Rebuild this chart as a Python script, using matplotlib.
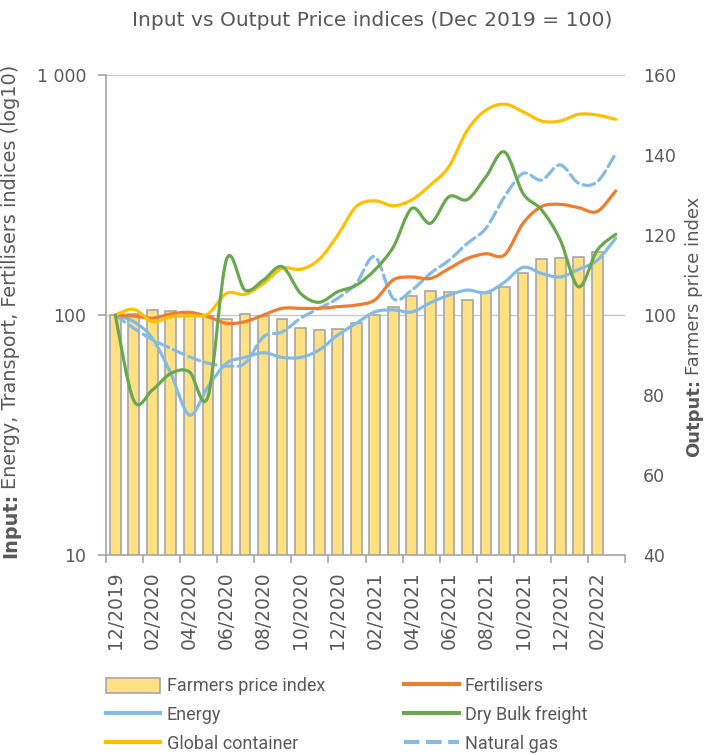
import numpy as np
import matplotlib
matplotlib.use("Agg")
import matplotlib.pyplot as plt
from matplotlib.path import Path
from matplotlib.patches import PathPatch, Patch
from matplotlib.lines import Line2D

# ---- data ----
months = ["12/2019", "01/2020", "02/2020", "03/2020", "04/2020", "05/2020", "06/2020",
          "07/2020", "08/2020", "09/2020", "10/2020", "11/2020", "12/2020", "01/2021",
          "02/2021", "03/2021", "04/2021", "05/2021", "06/2021", "07/2021", "08/2021",
          "09/2021", "10/2021", "11/2021", "12/2021", "01/2022", "02/2022", "03/2022"]

# output: farmers price index (right axis), no value yet for 03/2022
farmers = [100, 100.3, 101.2, 101, 100.2, 99.7, 99, 100.2, 99.8, 98.9, 96.8, 96.2, 96.5,
           98.1, 99.9, 102.1, 104.8, 106, 105.8, 103.7, 105.4, 107.1, 110.4, 113.9,
           114.2, 114.6, 115.7]

# inputs (left axis, log10)
fertilisers = [100, 99, 97, 101, 102.6, 98.4, 92.3, 93.8, 100, 106.6, 106.6, 106.6, 108.3,
               110, 115.5, 140, 144, 142, 156, 172, 180, 178, 241, 283, 289, 280, 270, 329]
energy = [100, 93.8, 80, 57, 38.3, 50.3, 62.9, 66.6, 69.6, 66.6, 66.6, 71.5, 82.5, 92.3,
          103, 105, 103, 112.5, 121, 127, 124, 137, 158, 149, 144, 155, 169, 209]
dry_bulk = [100, 44, 48.7, 57.1, 58, 45.7, 170, 127, 140, 159, 123, 113, 125, 133, 154,
            192, 278, 241, 311, 303, 377, 478, 321, 274, 206, 131, 186, 217]
container = [100, 105.6, 93.8, 98.4, 99.4, 101, 123, 122, 135.5, 156.5, 155, 170.5, 215,
             283, 299, 285, 302, 348, 415, 590, 714, 756, 703, 643, 643, 686, 681, 653]
natural_gas = [100, 88, 79, 72.6, 67, 63, 61.3, 63, 81.2, 85, 96.9, 106.6, 117.4, 135.5,
               175, 117, 127, 149, 169, 199, 230, 311, 389, 365, 422, 354, 359, 471]

GREY = "#595959"
W, H = 705, 755


def smooth_path(xs, ys):
    # Excel-style smoothed line: cubic bezier segments, built in log space
    px = np.asarray(xs, dtype=float)
    py = np.log10(np.asarray(ys, dtype=float))
    n = len(px)
    verts = [(px[0], py[0])]
    codes = [Path.MOVETO]
    for i in range(n - 1):
        p0 = i - 1 if i > 0 else i
        p3 = i + 2 if i + 2 < n else i + 1
        c1 = (px[i] + (px[i + 1] - px[p0]) / 6, py[i] + (py[i + 1] - py[p0]) / 6)
        c2 = (px[i + 1] - (px[p3] - px[i]) / 6, py[i + 1] - (py[p3] - py[i]) / 6)
        verts += [c1, c2, (px[i + 1], py[i + 1])]
        codes += [Path.CURVE4] * 3
    verts = [(vx, 10 ** vy) for vx, vy in verts]
    return Path(verts, codes)


def vlabel(fig, x_px, y_bottom_px, bold_part, rest, size):
    # vertical label with a bold lead-in, reading bottom to top
    r = fig.canvas.get_renderer()
    t1 = fig.text(x_px / W, 1 - y_bottom_px / H, bold_part, rotation=90, ha="center",
                  va="bottom", fontsize=size, fontweight="bold", color=GREY)
    ext = t1.get_window_extent(r)
    fig.text(x_px / W, (ext.y1 + 0.28 * size) / H, rest, rotation=90, ha="center",
             va="bottom", fontsize=size, color=GREY)


fig = plt.figure(figsize=(7.05, 7.55), dpi=100)
ax = fig.add_axes([106 / W, 1 - 555 / H, 519 / W, 480 / H])
ax2 = ax.twinx()

x_all = np.arange(len(months))

# bars on the output (right) scale
ax.bar(np.arange(len(farmers)), farmers, width=0.58, color="#FFE083",
       edgecolor="#A6A6A6", linewidth=1.2, zorder=2)
ax.set_ylim(40, 160)
ax.set_xlim(-0.5, len(months) - 0.5)
for g in [100, 160]:
    ax.axhline(g, color="#C8C8C8", linewidth=1, zorder=1)
ax.yaxis.tick_right()
ax.set_yticks([40, 60, 80, 100, 120, 140, 160])
ax.tick_params(axis="y", length=0, pad=13, labelsize=12.5, labelcolor=GREY)

# x axis: labels every second month, tick marks between categories
ax.set_xticks(x_all[::2])
ax.set_xticklabels(months[::2], rotation=90)
ax.set_xticks(np.arange(-0.5, len(months), 2), minor=True)
ax.tick_params(axis="x", which="major", length=0, pad=12, labelsize=13.5, labelcolor=GREY)
ax.tick_params(axis="x", which="minor", length=6, width=1.2, color="#A6A6A6")

for s in ["top", "right", "left"]:
    ax.spines[s].set_visible(False)
ax.spines["bottom"].set_color("#A6A6A6")
ax.spines["bottom"].set_linewidth(1.2)

# lines on the input (left, log) scale
ax2.set_yscale("log")
ax2.set_ylim(10, 1000)
ax2.yaxis.tick_left()
ax2.set_yticks([10, 100, 1000])
ax2.set_yticklabels(["10", "100", "1 000"])
ax2.yaxis.set_minor_locator(matplotlib.ticker.NullLocator())
ax2.tick_params(axis="y", length=6, width=1.2, color="#A6A6A6", pad=8,
                labelsize=12.5, labelcolor=GREY)
for s in ["top", "right", "bottom"]:
    ax2.spines[s].set_visible(False)
ax2.spines["left"].set_color("#A6A6A6")
ax2.spines["left"].set_linewidth(1.2)

series = [
    (energy, "#85BBE3", "-", "Energy"),
    (natural_gas, "#85BBE3", "--", "Natural gas"),
    (fertilisers, "#ED7D31", "-", "Fertilisers"),
    (container, "#FFC000", "-", "Global container"),
    (dry_bulk, "#6AA84F", "-", "Dry Bulk freight"),
]
handles = {}
for vals, col, ls, name in series:
    p = PathPatch(smooth_path(x_all[:len(vals)], vals), facecolor="none", edgecolor=col,
                  linewidth=2.3, linestyle=ls, capstyle="round", zorder=3)
    ax2.add_patch(p)
    handles[name] = Line2D([], [], color=col, linewidth=3, linestyle=ls)

vlabel(fig, 11, 558, "Input:", "Energy, Transport, Fertilisers indices (log10)", 13.9)
vlabel(fig, 694, 457, "Output:", "Farmers price index", 13.0)

fig.text(0.528, 1 - 21 / H, "Input vs Output Price indices (Dec 2019 = 100)",
         ha="center", va="center", fontsize=14.6, color=GREY, family="DejaVu Sans")

bar_handle = Patch(facecolor="#FFE083", edgecolor="#A6A6A6", linewidth=1.2)
leg_handles = [bar_handle, handles["Energy"], handles["Global container"],
               handles["Fertilisers"], handles["Dry Bulk freight"], handles["Natural gas"]]
leg_labels = ["Farmers price index", "Energy", "Global container",
              "Fertilisers", "Dry Bulk freight", "Natural gas"]
leg = fig.legend(leg_handles, leg_labels, ncol=2, loc="upper left",
                 bbox_to_anchor=(90 / W, 1 - 661 / H), frameon=False,
                 prop={"family": "Roboto", "size": 13}, labelcolor=GREY,
                 handlelength=3.0, handleheight=0.9, handletextpad=0.35,
                 columnspacing=4.4, labelspacing=0.6)

fig.savefig("out.png", dpi=100)
